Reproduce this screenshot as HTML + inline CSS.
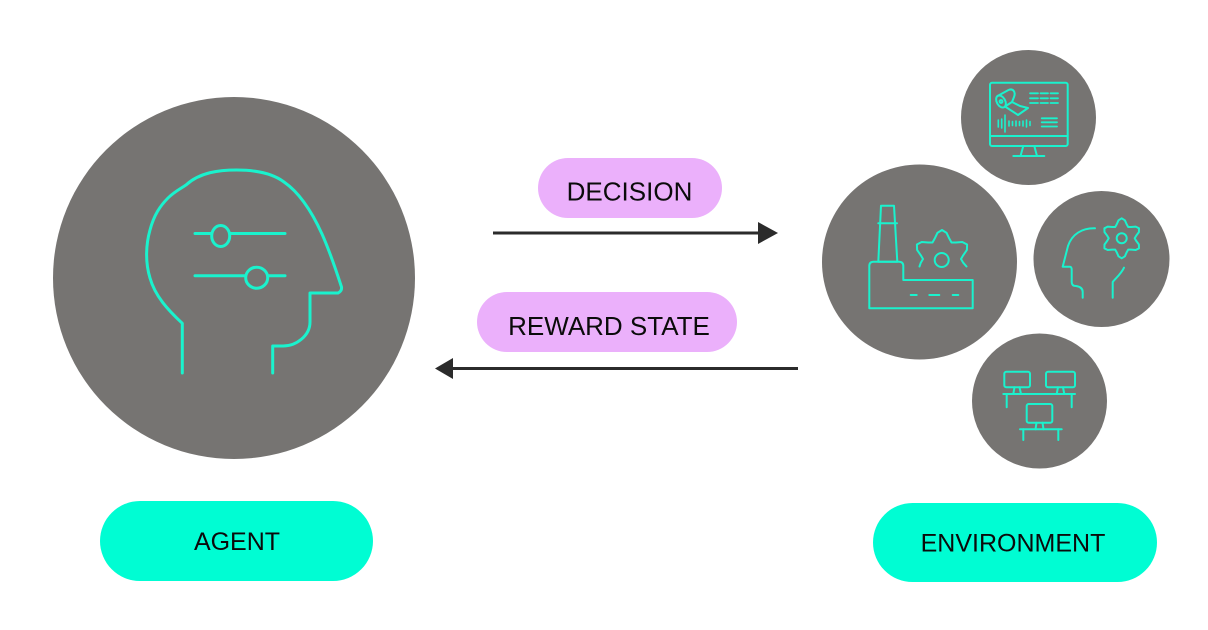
<!DOCTYPE html>
<html>
<head>
<meta charset="utf-8">
<style>
  html, body { margin: 0; padding: 0; background: #ffffff; }
  body { width: 1208px; height: 630px; overflow: hidden; }
  svg { display: block; }
  text { font-family: "Liberation Sans", sans-serif; fill: #0b0b0b; }
</style>
</head>
<body>
<svg width="1208" height="630" viewBox="0 0 1208 630" xmlns="http://www.w3.org/2000/svg">
  <rect width="1208" height="630" fill="#ffffff"/>

  <!-- Agent circle -->
  <circle cx="234" cy="278" r="181" fill="#767472"/>
  <g fill="none" stroke="#1af2cd" stroke-width="3" stroke-linecap="round" stroke-linejoin="round">
    <path d="M182.3,373 L182.3,323.3 C168,310 155,296 150,278 C145,262 146,244 150,230 C154,215 160,206 168,198 C174,192 180,189 186,185 C200,172 220,170 236.7,170 C256,170 272,173 284,182 C300,193 312,212 322,234 C330,252 336,270 341.5,287 C342,290 340,292 338,293 L310,293 L310,322 C310,336 296,346 283,346 L272.7,346 L272.7,373"/>
    <line x1="195" y1="233.5" x2="285" y2="233.5"/>
    <line x1="195" y1="275.7" x2="285" y2="275.7"/>
    <ellipse cx="220.7" cy="236" rx="9" ry="10.5" fill="#767472"/>
    <ellipse cx="256.7" cy="277.7" rx="11" ry="10.5" fill="#767472"/>
  </g>

  <!-- Arrows -->
  <line x1="493" y1="233" x2="762" y2="233" stroke="#2b2b2b" stroke-width="3"/>
  <polygon points="758,222 778,233 758,244" fill="#2b2b2b"/>
  <line x1="450" y1="368.5" x2="798" y2="368.5" stroke="#2b2b2b" stroke-width="3"/>
  <polygon points="453,358 435,368.5 453,379" fill="#2b2b2b"/>

  <!-- Pink labels -->
  <rect x="538" y="158" width="184" height="60" rx="30" fill="#ebb0fb"/>
  <text x="629.5" y="200.5" font-size="26" text-anchor="middle">DECISION</text>
  <rect x="477" y="292" width="260" height="60" rx="30" fill="#ebb0fb"/>
  <text x="609" y="335" font-size="26" text-anchor="middle">REWARD STATE</text>

  <!-- Teal pills -->
  <rect x="100" y="501" width="273" height="80" rx="40" fill="#00fdd3"/>
  <text x="237" y="550" font-size="25" text-anchor="middle">AGENT</text>
  <rect x="873" y="503" width="284" height="79" rx="39.5" fill="#00fdd3"/>
  <text x="1013" y="551.5" font-size="25" text-anchor="middle">ENVIRONMENT</text>

  <!-- Environment circles -->
  <circle cx="1028.5" cy="117.5" r="67.5" fill="#767472"/>
  <circle cx="919.5" cy="262" r="97.5" fill="#767472"/>
  <circle cx="1101.5" cy="259" r="68" fill="#767472"/>
  <circle cx="1039.5" cy="401" r="67.5" fill="#767472"/>

  <g fill="none" stroke="#1af2cd" stroke-width="2" stroke-linecap="round" stroke-linejoin="round">
    <!-- Monitor icon -->
    <rect x="990" y="82.7" width="77.7" height="63.3" rx="2"/>
    <line x1="990" y1="136" x2="1067.7" y2="136"/>
    <line x1="1023.3" y1="146" x2="1020.5" y2="156"/>
    <line x1="1034.3" y1="146" x2="1037" y2="156"/>
    <line x1="1013.3" y1="156" x2="1044.3" y2="156"/>
    <!-- paper roll -->
    <ellipse cx="1001" cy="101.5" rx="4.2" ry="6.5" transform="rotate(-30 1001 101.5)"/>
    <circle cx="1001" cy="101.5" r="1.4"/>
    <path d="M997.5,96 L1008.5,90 C1013,88 1016,92 1014,97 L1012,102 L1005,106.5"/>
    <path d="M1012,102 L1020,106 L1028,108 L1018,115 L1005,106.5"/>
    <!-- dashes rows -->
    <path d="M1030,93.3 H1038 M1040.5,93.3 H1048 M1050.5,93.3 H1058 M1030,98.3 H1038 M1040.5,98.3 H1048 M1050.5,98.3 H1058 M1030,103 H1038 M1040.5,103 H1048 M1050.5,103 H1058" stroke-width="1.8"/>
    <path d="M1041.7,118.3 H1057 M1041.7,122.3 H1057 M1041.7,126.5 H1057" stroke-width="1.8"/>
    <!-- waveform -->
    <path d="M998.3,120 V127 M1001.7,119 V128 M1005,115 V132 M1009,121 V126 M1012.5,121.5 V125.5 M1016,121 V126 M1019.5,121.5 V125.5 M1023,121 V126 M1026.5,120 V127 M1030,121.5 V125.5" stroke-width="1.6"/>

    <!-- Factory icon -->
    <path d="M881,205.7 L894,205.7 L897.3,261.7 L878.3,261.7 Z"/>
    <line x1="878.3" y1="223.3" x2="897" y2="223.3"/>
    <path d="M869.3,308.3 L869.3,266 Q869.3,261.7 873.5,261.7 L899,261.7 Q903.3,261.7 903.3,266 L903.3,280 L972.7,280 L972.7,308.3 Z"/>
    <path d="M910.7,295 H916.7 M929.3,295 H939.3 M952.7,295 H958.3"/>
    <circle cx="941.7" cy="260" r="7"/>
    <polyline points="919.5,266.5 920.8,262.7 923,259 920.8,255.3 917.1,249.9 916.9,244.5 921.7,242 928.2,242.5 932.5,242.5 934.6,238.8 937.4,232.9 942,230 946.6,232.9 949.4,238.8 951.5,242.5 955.8,242.5 962.3,242 967.1,244.5 966.9,249.9 963.2,255.3 961,259 963.2,262.7 966.5,266.5"/>

    <!-- Head with gear icon -->
    <path d="M1095,228.3 C1082,228 1072,234 1068,246 L1062.7,266.7 L1070,266.7 Q1071.7,267 1071.7,270 L1071.7,282 Q1071.7,286 1076,286 Q1082.7,287 1082.7,292 L1082.7,297.7"/>
    <path d="M1124,267.7 C1121,274 1116,278 1112.7,282 L1112.7,297.7"/>
    <polygon points="1134.7,238.3 1136.2,240.9 1138.9,244.5 1139,248.3 1135.7,250 1131.2,249.6 1128.2,249.6 1126.7,252.2 1124.9,256.3 1121.7,258.3 1118.5,256.3 1116.7,252.2 1115.2,249.6 1112.2,249.6 1107.7,250 1104.4,248.3 1104.5,244.5 1107.2,240.9 1108.7,238.3 1107.2,235.7 1104.5,232.1 1104.4,228.3 1107.7,226.6 1112.2,227 1115.2,227 1116.7,224.4 1118.5,220.3 1121.7,218.3 1124.9,220.3 1126.7,224.4 1128.2,227 1131.2,227 1135.7,226.6 1139,228.3 1138.9,232.1 1136.2,235.7"/>
    <circle cx="1121.7" cy="238.3" r="5"/>

    <!-- Network icon -->
    <rect x="1004.3" y="371.7" width="25.7" height="15.6" rx="2"/>
    <path d="M1014.5,387.3 L1013.3,394 M1019.5,387.3 L1021,394"/>
    <rect x="1046" y="371.7" width="29" height="15.6" rx="2"/>
    <path d="M1058,387.3 L1056.7,394 M1063,387.3 L1064.3,394"/>
    <line x1="1003.3" y1="394" x2="1075" y2="394"/>
    <path d="M1006.7,394 V407.3 M1071.7,394 V407.3"/>
    <rect x="1026.7" y="404" width="25.6" height="18.7" rx="2"/>
    <path d="M1036.5,422.7 L1035.5,429.3 M1042.5,422.7 L1043.5,429.3"/>
    <line x1="1020" y1="429.3" x2="1061.7" y2="429.3"/>
    <path d="M1023.3,429.3 V440 M1058.3,429.3 V440"/>
  </g>
</svg>
</body>
</html>
